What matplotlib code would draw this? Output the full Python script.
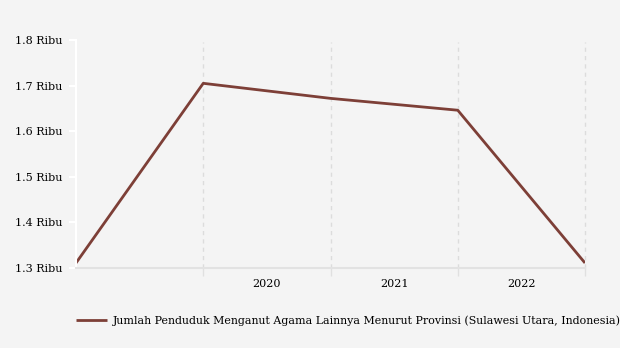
import matplotlib
matplotlib.use("Agg")
import matplotlib.pyplot as plt

# data
x_pos = [0, 1, 2, 3, 4]
values = [1.311, 1.705, 1.672, 1.646, 1.311]
year_pos = [1.5, 2.5, 3.5]
year_labels = ["2020", "2021", "2022"]
y_ticks = [1.3, 1.4, 1.5, 1.6, 1.7, 1.8]
series_name = "Jumlah Penduduk Menganut Agama Lainnya Menurut Provinsi (Sulawesi Utara, Indonesia)"

plt.rcParams["font.family"] = "DejaVu Serif"
bg = "#f4f4f4"

fig = plt.figure(figsize=(6.2, 3.48), dpi=100, facecolor=bg)
ax = fig.add_axes([76 / 620, 1 - 268 / 348, 509 / 620, 228 / 348], facecolor=bg)

line, = ax.plot(x_pos, values, color="#7d3f37", lw=2.0, solid_capstyle="butt")

ax.set_xlim(0, 4)
ax.set_ylim(1.3, 1.8)
ax.set_yticks(y_ticks)
ax.set_yticklabels([f"{v:.1f} Ribu" for v in y_ticks], fontsize=8)

# vertical dashed grid at year boundaries
for xg in x_pos[1:]:
    ax.axvline(xg, color="#dcdcdc", lw=1, ls=(0, (3, 3)), zorder=0, ymax=0.99, clip_on=False)
ax.set_xticks(x_pos[1:])
ax.set_xticklabels([])
ax.tick_params(axis="x", length=6, color="#e0e0e0", width=1)
ax.set_xticks(year_pos, minor=True)
ax.set_xticklabels(year_labels, minor=True, fontsize=8)
ax.tick_params(axis="x", which="minor", length=0, pad=8)

ax.tick_params(axis="y", length=5, color="white", width=1.5, pad=5)

for s in ["top", "right"]:
    ax.spines[s].set_visible(False)
ax.spines["left"].set_color("white")
ax.spines["left"].set_linewidth(1.5)
ax.spines["bottom"].set_color("#e2e2e2")
ax.spines["bottom"].set_linewidth(1.5)

fig.legend([line], [series_name], loc="center left", bbox_to_anchor=(66 / 620, 1 - 321 / 348),
           frameon=False, fontsize=7.92, handlelength=2.85, handletextpad=0.5)

fig.savefig("out.png", dpi=100, facecolor=bg)
